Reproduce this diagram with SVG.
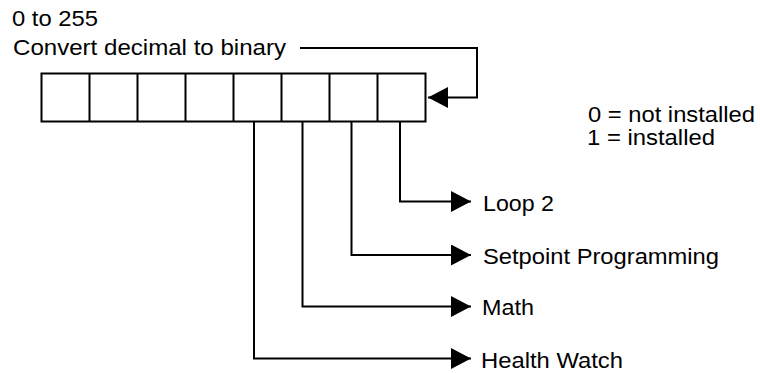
<svg xmlns="http://www.w3.org/2000/svg" width="760" height="373" viewBox="0 0 760 373">
<style>
  .ln { fill: none; stroke: #000; stroke-width: 2; }
  .cell { fill: #fff; stroke: #000; stroke-width: 2; }
  .t { font-family: "Liberation Sans", Arial, sans-serif; font-size: 22.5px; fill: #000; }
</style>
<defs>
  <marker id="ah" markerUnits="userSpaceOnUse" markerWidth="22" markerHeight="22" refX="20" refY="10.5" orient="auto" viewBox="0 0 22 22">
    <path d="M0,0 L20,10.5 L0,21 Z" fill="#000"/>
  </marker>
</defs>
<rect width="760" height="373" fill="#fff"/>
<g id="header">
  <text class="t" x="12" y="26" textLength="86" lengthAdjust="spacingAndGlyphs">0 to 255</text>
  <text class="t" x="13" y="55" textLength="273" lengthAdjust="spacingAndGlyphs">Convert decimal to binary</text>
</g>
<g id="register">
  <rect class="cell" x="41.5" y="73.5" width="384" height="48"/>
  <path class="ln" d="M89.5,73.5 V121.5 M137.5,73.5 V121.5 M185.5,73.5 V121.5 M233.5,73.5 V121.5 M281.5,73.5 V121.5 M329.5,73.5 V121.5 M377.5,73.5 V121.5"/>
</g>
<g id="legend">
  <text class="t" x="588" y="121.5" textLength="167" lengthAdjust="spacingAndGlyphs">0 = not installed</text>
  <text class="t" x="587" y="144.5" textLength="128" lengthAdjust="spacingAndGlyphs">1 = installed</text>
</g>
<g id="loop2"><text class="t" x="483" y="210.5" textLength="71" lengthAdjust="spacingAndGlyphs">Loop 2</text></g>
<g id="setpoint"><text class="t" x="483" y="263.5" textLength="236" lengthAdjust="spacingAndGlyphs">Setpoint Programming</text></g>
<g id="math"><text class="t" x="482" y="315" textLength="52" lengthAdjust="spacingAndGlyphs">Math</text></g>
<g id="health"><text class="t" x="481" y="367.5" textLength="142" lengthAdjust="spacingAndGlyphs">Health Watch</text></g>
<g id="connectors">
  <path class="ln" d="M300,48 H477 V97.5 H428" marker-end="url(#ah)"/>
  <path class="ln" d="M400,121.5 V201.5 H471" marker-end="url(#ah)"/>
  <path class="ln" d="M351.5,121.5 V255 H471" marker-end="url(#ah)"/>
  <path class="ln" d="M302.5,121.5 V306.5 H471" marker-end="url(#ah)"/>
  <path class="ln" d="M254,121.5 V358.5 H471" marker-end="url(#ah)"/>
</g>
</svg>
